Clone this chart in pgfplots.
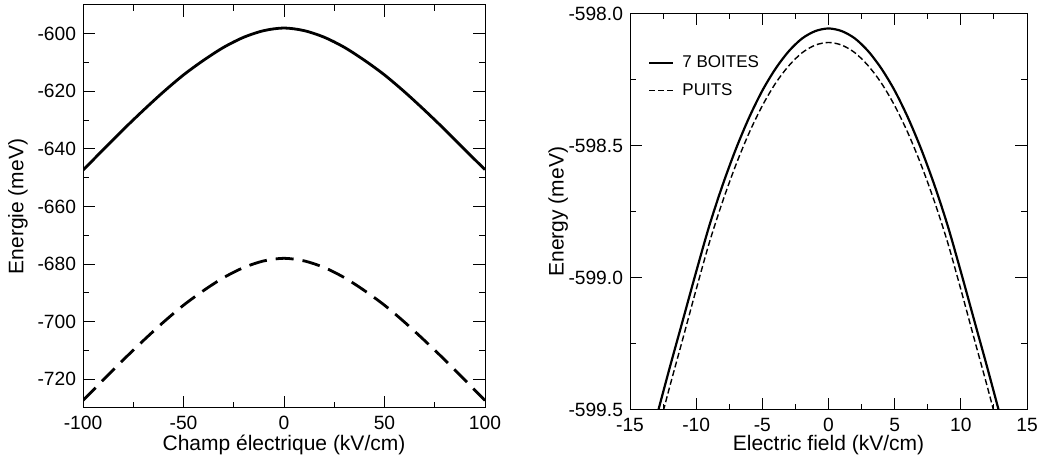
\documentclass[border=0pt]{standalone}
\usepackage{fontspec}
\setmainfont{Liberation Sans}
\usepackage{pgfplots}
\pgfplotsset{compat=1.18}

\pgfplotsset{
  grace/.style={
    scale only axis,
    anchor=south west,
    axis line style={line width=0.5pt},
    tick align=inside,
    major tick length=6pt,
    minor tick length=3pt,
    every tick/.style={black, line width=0.5pt},
    minor x tick num=1,
    minor y tick num=1,
    tick label style={font=\fontsize{9.6}{10}\selectfont},
    label style={font=\fontsize{10.5}{12}\selectfont},
    /pgf/number format/assume math mode=true,
    xticklabel style={yshift=-0.5pt},
  }
}

\begin{document}
\begin{tikzpicture}
\path[use as bounding box] (0pt,0pt) rectangle (518.5pt,229pt);

% left panel
\begin{axis}[grace,
  at={(41.5pt,25pt)}, width=201pt, height=201.5pt,
  xmin=-100, xmax=100, ymin=-730, ymax=-590,
  xtick={-100,-50,0,50,100},
  ytick={-720,-700,-680,-660,-640,-620,-600},
  xlabel={Champ électrique (kV/cm)},
  ylabel={Energie (meV)},
  xlabel style={at={(axis description cs:0.5,-0.092)}, anchor=center},
  ylabel style={at={(axis description cs:-0.162,0.5)}, anchor=center},
]
\addplot[black, line width=1.4pt, smooth] coordinates {
  (-100,-647.4) (-90,-640.3) (-80,-633.3) (-70,-626.6) (-60,-620.2)
  (-50,-614.3) (-40,-609.2) (-30,-604.7) (-20,-601.2) (-10,-598.9)
  (0,-598.0)
  (10,-598.9) (20,-601.2) (30,-604.7) (40,-609.2) (50,-614.3)
  (60,-620.2) (70,-626.6) (80,-633.3) (90,-640.3) (100,-647.2)
};
\addplot[black, line width=1.4pt, smooth, dash pattern=on 9pt off 4.5pt] coordinates {
  (-100,-727.4) (-90,-720.3) (-80,-713.3) (-70,-706.6) (-60,-700.2)
  (-50,-694.3) (-40,-689.2) (-30,-684.7) (-20,-681.2) (-10,-678.9)
  (0,-678.0)
  (10,-678.9) (20,-681.2) (30,-684.7) (40,-689.2) (50,-694.3)
  (60,-700.2) (70,-706.6) (80,-713.3) (90,-720.3) (100,-727.4)
};
\end{axis}

% right panel
\begin{axis}[grace,
  at={(315pt,24pt)}, width=198.5pt, height=198.3pt,
  xmin=-15, xmax=15, ymin=-599.5, ymax=-598.0,
  xtick={-15,-10,-5,0,5,10,15},
  ytick={-599.5,-599.0,-598.5,-598.0},
  yticklabel style={/pgf/number format/.cd, fixed, fixed zerofill, precision=1},
  xlabel={Electric field (kV/cm)},
  ylabel={Energy (meV)},
  xlabel style={at={(axis description cs:0.5,-0.089)}, anchor=center},
  ylabel style={at={(axis description cs:-0.181,0.5)}, anchor=center},
  legend style={at={(axis description cs:0.045,0.905)}, anchor=north west,
    draw=none, fill=none, font=\fontsize{8.5}{9}\selectfont,
    row sep=2.5pt, inner sep=0pt, nodes={inner xsep=4pt}},
  legend cell align=left,
  legend image code/.code={\draw[#1] (0pt,0pt) -- (12pt,0pt);},
]
\addplot[black, line width=1.1pt, smooth] coordinates {
  (-13,-599.527) (-12,-599.340) (-11,-599.159) (-10,-598.977) (-9,-598.802)
  (-8,-598.649) (-7,-598.513) (-6,-598.394) (-5,-598.292) (-4,-598.209)
  (-3,-598.143) (-2,-598.095) (-1,-598.067) (0,-598.057)
  (1,-598.067) (2,-598.095) (3,-598.143) (4,-598.209) (5,-598.292)
  (6,-598.394) (7,-598.513) (8,-598.649) (9,-598.802) (10,-598.977)
  (11,-599.159) (12,-599.340) (13,-599.527)
};
\addlegendentry{7 BOITES}
\addplot[black, line width=0.7pt, smooth, dash pattern=on 3pt off 1.5pt] coordinates {
  (-13,-599.602) (-12,-599.412) (-11,-599.229) (-10,-599.044) (-9,-598.866)
  (-8,-598.711) (-7,-598.573) (-6,-598.452) (-5,-598.349) (-4,-598.264)
  (-3,-598.198) (-2,-598.149) (-1,-598.120) (0,-598.110)
  (1,-598.120) (2,-598.149) (3,-598.198) (4,-598.264) (5,-598.349)
  (6,-598.452) (7,-598.573) (8,-598.711) (9,-598.866) (10,-599.044)
  (11,-599.229) (12,-599.412) (13,-599.602)
};
\addlegendentry{PUITS}
\end{axis}
\end{tikzpicture}
\end{document}
